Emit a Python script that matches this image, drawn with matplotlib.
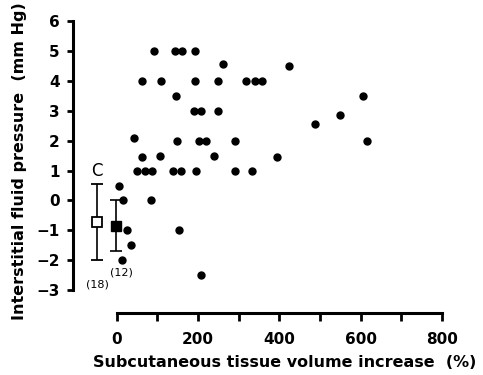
import numpy as np
import matplotlib
matplotlib.use('Agg')
import matplotlib.pyplot as plt

# scatter points: volume increase (%) and pressure (mm Hg)
vol = [92, 143, 160, 193, 261, 423,
       61, 109, 193, 248, 319, 341, 357,
       145, 191, 207, 250, 605, 548, 487, 616,
       43, 147, 202, 219, 291,
       61, 107, 239, 393,
       49, 70, 87, 139, 157, 195, 290, 332,
       85, 5, 14, 154, 25, 34, 12, 206]
pres = [5, 5, 5, 5, 4.55, 4.5,
        4, 4, 4, 4, 4, 4, 4,
        3.5, 3, 3, 3, 3.5, 2.85, 2.55, 2,
        2.1, 2, 2, 2, 2,
        1.45, 1.5, 1.5, 1.45,
        1, 1, 1, 1, 1, 1, 1, 1,
        0, 0.5, 0, -1, -1, -1.5, -2, -2.5]

# control (C) and group mean with error bars
ctrl_x, ctrl_y, ctrl_lo, ctrl_hi = -49, -0.73, -2.0, 0.55
grp_x, grp_y, grp_lo, grp_hi = -2, -0.86, -1.7, 0.0

plt.rcParams['font.family'] = 'DejaVu Sans'

fig = plt.figure(figsize=(4.83, 3.75), dpi=100)
ax = fig.add_axes([0.151, 0.166, 0.764, 0.780])

ax.plot(vol, pres, 'o', color='black', markersize=5, zorder=3)

ax.errorbar(ctrl_x, ctrl_y, yerr=[[ctrl_y - ctrl_lo], [ctrl_hi - ctrl_y]],
            fmt='s', mfc='white', mec='black', mew=1.3, ms=6.5,
            ecolor='black', elinewidth=1.2, capsize=4, capthick=1.2, zorder=4)
ax.errorbar(grp_x, grp_y, yerr=[[grp_y - grp_lo], [grp_hi - grp_y]],
            fmt='s', mfc='black', mec='black', ms=7,
            ecolor='black', elinewidth=1.2, capsize=4, capthick=1.2, zorder=4)

ax.text(ctrl_x, 1.0, 'C', ha='center', va='center', fontsize=12)
ax.text(ctrl_x + 2, -2.82, '(18)', ha='center', va='center', fontsize=8)
ax.text(grp_x + 14, -2.4, '(12)', ha='center', va='center', fontsize=8)

ax.set_xlim(-108, 800)
ax.set_ylim(-3.75, 6.02)

for s in ['top', 'right']:
    ax.spines[s].set_visible(False)
ax.spines['left'].set_bounds(-3, 6)
ax.spines['bottom'].set_bounds(0, 800)
ax.spines['left'].set_linewidth(2.2)
ax.spines['bottom'].set_linewidth(2.2)

ax.set_yticks(np.arange(-3, 7, 1))
ax.set_yticklabels(['\u22123', '\u22122', '\u22121', '0', '1', '2', '3', '4', '5', '6'])
ax.set_xticks([0, 200, 400, 600, 800])
ax.set_xticks([100, 300, 500, 700], minor=True)
ax.tick_params(axis='both', which='both', width=2, labelsize=11)
ax.tick_params(axis='y', length=4.5, pad=5)
ax.tick_params(axis='x', which='both', length=6, pad=8)
for lab in ax.get_xticklabels() + ax.get_yticklabels():
    lab.set_fontweight('bold')

ax.set_ylabel('Interstitial fluid pressure  (mm Hg)', fontsize=11.5,
              fontweight='bold')
ax.set_xlabel('Subcutaneous tissue volume increase  (%)', fontsize=11.5,
              fontweight='bold')
ax.yaxis.set_label_coords(-0.124, 0.52)
ax.xaxis.set_label_coords(0.575, -0.145)

fig.savefig('out.png', dpi=100)
